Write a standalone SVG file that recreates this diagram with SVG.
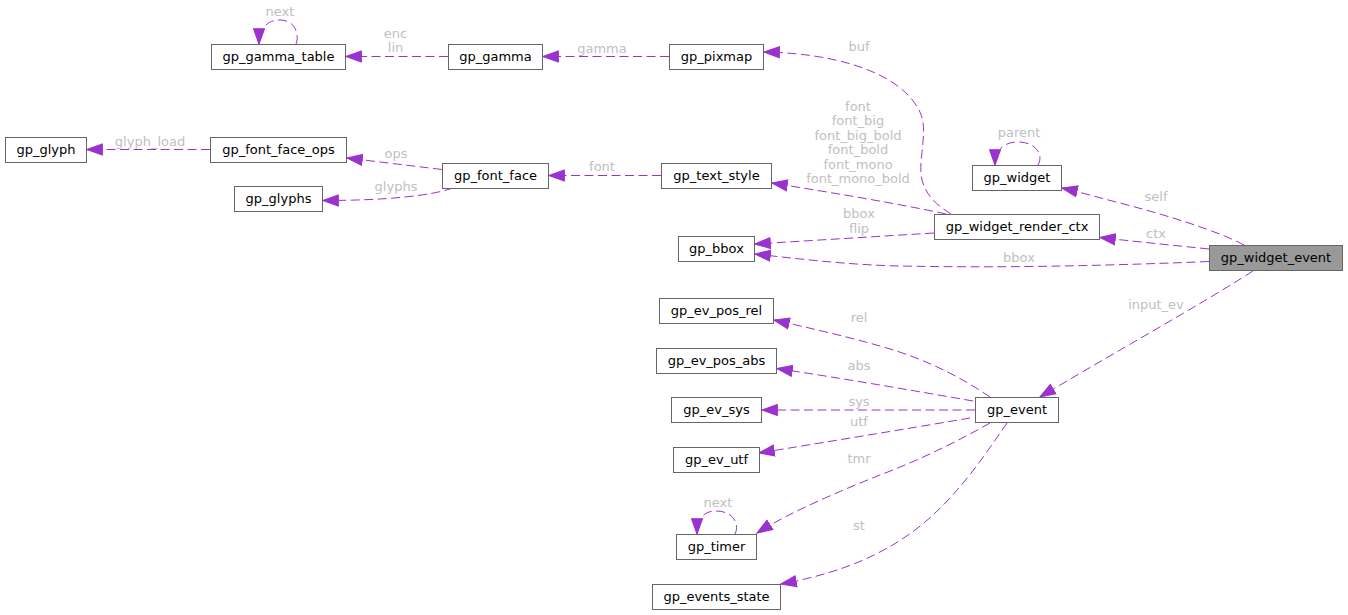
<svg xmlns="http://www.w3.org/2000/svg" width="1348" height="615" viewBox="0 0 1348 615">
<style>
.node rect{fill:#ffffff;stroke:#666666;stroke-width:1}
.node.root rect{fill:#999999}
.node text{font-family:"DejaVu Sans",sans-serif;font-size:13px;fill:#000000;text-anchor:middle}
.edge path{fill:none;stroke:#9a32cd;stroke-width:1;stroke-dasharray:9,4.5;marker-end:url(#arr)}
.lbl{font-family:"DejaVu Sans",sans-serif;font-size:13px;fill:#c0c0c0;text-anchor:middle}
</style>
<defs>
<marker id="arr" markerUnits="userSpaceOnUse" markerWidth="17" markerHeight="13" viewBox="0 0 15 11" refX="14" refY="5.5" orient="auto">
<polygon points="0.5,0.7 14,5.5 0.5,10.3" fill="#9a32cd" stroke="#9a32cd" stroke-width="1"/>
</marker>
</defs>
<rect width="1348" height="615" fill="#ffffff"/>
<g id="connectors" class="edge">
<path d="M448,56.5 L346,56.5"/>
<path d="M296,44 C300,33 294,20 280,20 C266,20 259,30 259,44"/>
<path d="M669,56.5 L543,56.5"/>
<path d="M951,214 C938,206 926,196 922,180 C917,160 930,130 919,110 C898,70 830,53 764,52"/>
<path d="M442,169.5 L347,158"/>
<path d="M210,149.5 L87,149.5"/>
<path d="M453,188 C430,196 385,200.5 323,200.5"/>
<path d="M661,175.5 L549,175.5"/>
<path d="M946,214 C900,204 840,194 772,183"/>
<path d="M934,233 L755,244"/>
<path d="M1209,261.5 C1100,266 1000,268 900,266 C850,265 800,259 755,254"/>
<path d="M1244,245 C1220,232 1170,216 1120,203 C1100,198 1080,192 1062,188"/>
<path d="M1209,249 C1170,245 1130,241 1100,237.5"/>
<path d="M1253,271 C1200,305 1110,355 1040,397"/>
<path d="M1038,165 C1044,155 1036,142 1018,142 C1002,142 995,152 995,165"/>
<path d="M990,397 C965,380 930,360 880,346 C845,336 805,327 774,320"/>
<path d="M973,401 C910,390 840,378 777,368.5"/>
<path d="M975,410 L762,410"/>
<path d="M970,418 C900,430 820,443 759,453"/>
<path d="M990,423 C960,440 920,460 880,475 C840,491 790,512 757,533"/>
<path d="M1007,423 C985,455 955,500 915,530 C875,560 830,575 781,584"/>
<path d="M735,534 C740,524 733,511 716,511 C702,511 697,521 697,534"/>
</g>
<g id="labels">
<text class="lbl" x="280" y="15.5">next</text>
<text class="lbl" x="395.5" y="37.5">enc</text>
<text class="lbl" x="395.5" y="52">lin</text>
<text class="lbl" x="602" y="52.5">gamma</text>
<text class="lbl" x="859" y="50.5">buf</text>
<text class="lbl" x="858" y="110.5">font</text>
<text class="lbl" x="858" y="125">font_big</text>
<text class="lbl" x="858" y="139.5">font_big_bold</text>
<text class="lbl" x="858" y="154">font_bold</text>
<text class="lbl" x="858" y="168.5">font_mono</text>
<text class="lbl" x="858" y="183">font_mono_bold</text>
<text class="lbl" x="602" y="170.5">font</text>
<text class="lbl" x="396" y="158">ops</text>
<text class="lbl" x="396" y="191">glyphs</text>
<text class="lbl" x="150" y="145.5">glyph_load</text>
<text class="lbl" x="1019" y="137">parent</text>
<text class="lbl" x="1156" y="200.5">self</text>
<text class="lbl" x="1156" y="238">ctx</text>
<text class="lbl" x="859" y="218">bbox</text>
<text class="lbl" x="859" y="232.5">flip</text>
<text class="lbl" x="1019" y="262">bbox</text>
<text class="lbl" x="1156" y="308.5">input_ev</text>
<text class="lbl" x="859" y="322">rel</text>
<text class="lbl" x="859" y="370">abs</text>
<text class="lbl" x="859" y="406">sys</text>
<text class="lbl" x="859" y="425.5">utf</text>
<text class="lbl" x="859" y="463">tmr</text>
<text class="lbl" x="859" y="530">st</text>
<text class="lbl" x="718" y="507">next</text>
</g>
<g id="gp_widget_event" class="node root"><rect x="1209.5" y="245.5" width="133" height="25"/><text x="1276" y="262">gp_widget_event</text></g>
<g id="gp_widget" class="node"><rect x="972.5" y="165.5" width="89" height="25"/><text x="1017" y="182">gp_widget</text></g>
<g id="gp_widget_render_ctx" class="node"><rect x="934.5" y="214.5" width="165" height="25"/><text x="1017" y="231">gp_widget_render_ctx</text></g>
<g id="gp_text_style" class="node"><rect x="661.5" y="163.5" width="110" height="25"/><text x="716.5" y="180">gp_text_style</text></g>
<g id="gp_bbox" class="node"><rect x="678.5" y="236.5" width="76" height="25"/><text x="716.5" y="253">gp_bbox</text></g>
<g id="gp_font_face" class="node"><rect x="442.5" y="163.5" width="106" height="25"/><text x="495.5" y="180">gp_font_face</text></g>
<g id="gp_font_face_ops" class="node"><rect x="210.5" y="137.5" width="136" height="25"/><text x="278.5" y="154">gp_font_face_ops</text></g>
<g id="gp_glyph" class="node"><rect x="5.5" y="137.5" width="81" height="25"/><text x="46" y="154">gp_glyph</text></g>
<g id="gp_glyphs" class="node"><rect x="234.5" y="186.5" width="88" height="25"/><text x="278.5" y="203">gp_glyphs</text></g>
<g id="gp_gamma_table" class="node"><rect x="211.5" y="44.5" width="134" height="25"/><text x="278.5" y="61">gp_gamma_table</text></g>
<g id="gp_gamma" class="node"><rect x="448.5" y="44.5" width="94" height="25"/><text x="495.5" y="61">gp_gamma</text></g>
<g id="gp_pixmap" class="node"><rect x="669.5" y="44.5" width="94" height="25"/><text x="716.5" y="61">gp_pixmap</text></g>
<g id="gp_event" class="node"><rect x="975.5" y="397.5" width="83" height="25"/><text x="1017" y="414">gp_event</text></g>
<g id="gp_ev_pos_rel" class="node"><rect x="659.5" y="298.5" width="114" height="25"/><text x="716.5" y="315">gp_ev_pos_rel</text></g>
<g id="gp_ev_pos_abs" class="node"><rect x="656.5" y="348.5" width="120" height="25"/><text x="716.5" y="365">gp_ev_pos_abs</text></g>
<g id="gp_ev_sys" class="node"><rect x="671.5" y="397.5" width="90" height="25"/><text x="716.5" y="414">gp_ev_sys</text></g>
<g id="gp_ev_utf" class="node"><rect x="673.5" y="447.5" width="86" height="25"/><text x="716.5" y="464">gp_ev_utf</text></g>
<g id="gp_timer" class="node"><rect x="676.5" y="534.5" width="80" height="25"/><text x="716.5" y="551">gp_timer</text></g>
<g id="gp_events_state" class="node"><rect x="652.5" y="584.5" width="128" height="25"/><text x="716.5" y="601">gp_events_state</text></g>
</svg>
